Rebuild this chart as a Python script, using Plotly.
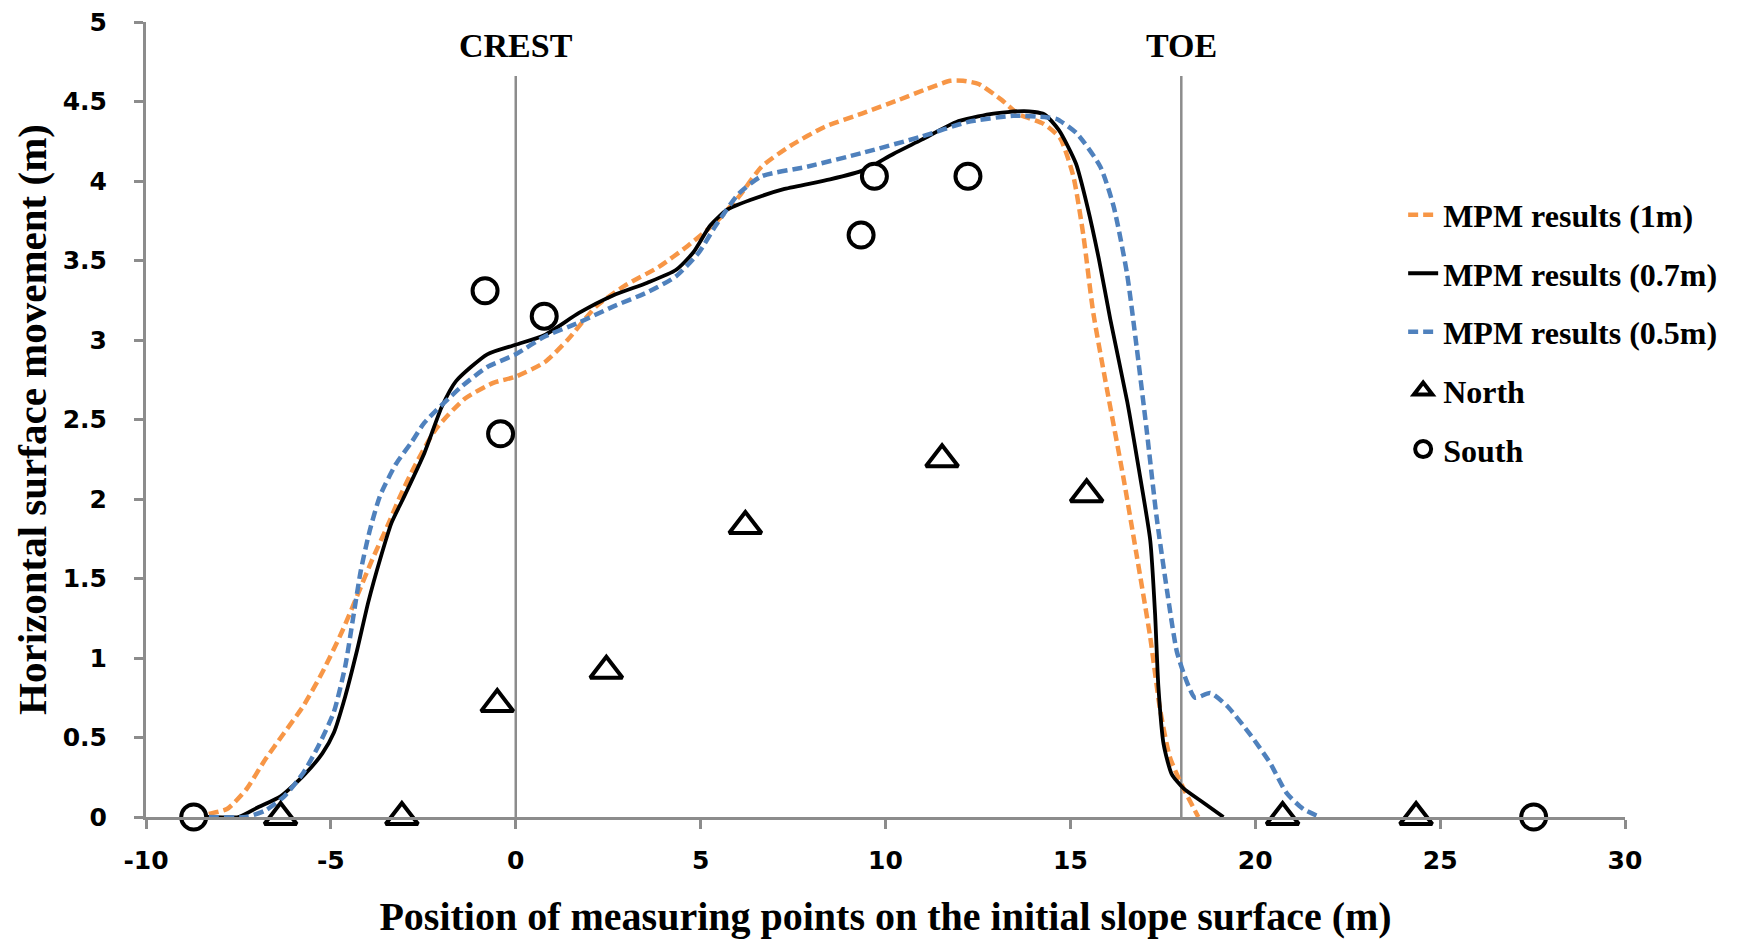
import plotly.graph_objects as go

# ---------------- data ----------------
mpm_1m_x = [-8.7, -8.3, -7.81, -7.3, -6.78, -6.26, -5.74, -5.23, -4.71, -4.29, -3.88, -3.47, -3.16,
            -2.77, -2.16, -1.38, -0.61, 0.0, 0.78, 1.40, 2.17, 2.94, 3.87, 4.64, 5.41, 6.03, 6.65,
            7.42, 8.35, 9.43, 10.36, 11.13, 11.75, 12.1, 12.52, 13.14, 13.6, 14.27, 14.72, 15.08,
            15.35, 15.62, 15.99, 16.43, 16.79, 17.16, 17.43, 17.70, 18.06, 18.46]
mpm_1m_y = [0.0, 0.02, 0.05, 0.17, 0.36, 0.53, 0.70, 0.91, 1.16, 1.39, 1.62, 1.83, 2.00,
            2.19, 2.44, 2.63, 2.73, 2.77, 2.86, 3.00, 3.21, 3.34, 3.46, 3.59, 3.74, 3.90, 4.09,
            4.22, 4.34, 4.43, 4.51, 4.58, 4.63, 4.63, 4.61, 4.51, 4.42, 4.36, 4.27, 4.03,
            3.66, 3.17, 2.69, 2.14, 1.65, 1.13, 0.67, 0.37, 0.18, 0.0]

mpm_07m_x = [-8.7, -8.33, -7.5, -6.98, -6.36, -5.74, -5.23, -4.92, -4.61, -4.29, -3.99, -3.67, -3.36,
             -3.05, -2.47, -2.0, -1.62, -0.77, 0.0, 0.77, 1.71, 2.63, 3.56, 4.33, 4.80, 5.26, 5.72,
             6.34, 7.27, 8.50, 9.43, 10.21, 10.98, 11.90, 12.83, 13.75, 14.29, 14.69, 15.15,
             15.46, 15.77, 16.08, 16.54, 16.85, 17.16, 17.29, 17.38, 17.52, 17.74, 18.06, 18.60, 19.14]
mpm_07m_y = [0.0, 0.0, 0.0, 0.06, 0.13, 0.26, 0.40, 0.53, 0.76, 1.05, 1.35, 1.62, 1.85,
             2.00, 2.29, 2.58, 2.74, 2.91, 2.97, 3.03, 3.17, 3.28, 3.36, 3.44, 3.55, 3.72, 3.82,
             3.88, 3.95, 4.01, 4.07, 4.17, 4.26, 4.37, 4.42, 4.44, 4.42, 4.32, 4.11,
             3.84, 3.51, 3.13, 2.61, 2.19, 1.74, 1.28, 0.82, 0.46, 0.27, 0.18, 0.09, 0.0]

mpm_05m_x = [-8.7, -8.33, -7.3, -6.78, -6.26, -5.74, -5.33, -4.92, -4.61, -4.40, -4.19, -3.95, -3.67,
             -3.24, -2.81, -2.47, -1.5, -0.77, 0.0, 0.77, 1.71, 2.63, 3.56, 4.33, 4.95, 5.41, 6.03,
             6.65, 7.88, 9.43, 10.98, 12.21, 13.45, 14.38, 14.63, 15.17, 15.81, 16.17, 16.53,
             16.79, 17.06, 17.33, 17.61, 17.88, 18.15, 18.37, 18.78, 19.23, 19.86, 20.40, 20.85,
             21.30, 21.75]
mpm_05m_y = [0.0, 0.0, 0.0, 0.04, 0.13, 0.28, 0.45, 0.66, 0.95, 1.25, 1.55, 1.80, 2.02,
             2.22, 2.36, 2.48, 2.70, 2.83, 2.91, 3.02, 3.11, 3.21, 3.30, 3.40, 3.55, 3.72, 3.92,
             4.03, 4.09, 4.18, 4.28, 4.37, 4.41, 4.40, 4.39, 4.30, 4.09, 3.84, 3.42,
             2.96, 2.44, 1.89, 1.43, 1.04, 0.85, 0.75, 0.78, 0.70, 0.52, 0.34, 0.15,
             0.05, 0.0]

north_x = [-6.36, -3.08, -0.50, 2.45, 6.21, 11.53, 15.44, 20.74, 24.35]
north_y = [0.0, 0.0, 0.71, 0.92, 1.83, 2.25, 2.03, 0.0, 0.0]

south_x = [-8.71, -0.83, -0.41, 0.77, 9.34, 9.70, 12.23, 27.53]
south_y = [0.0, 3.31, 2.41, 3.15, 3.66, 4.03, 4.03, 0.0]

crest_x = 0
toe_x = 18
marker_line_top = 4.66
label_y = 4.85

x_ticks = [-10, -5, 0, 5, 10, 15, 20, 25, 30]
y_ticks = [0, 0.5, 1, 1.5, 2, 2.5, 3, 3.5, 4, 4.5, 5]

ORANGE = "#F79646"
BLUE = "#4F81BD"
GRAY = "#8C8C8C"
SERIF = "Liberation Serif, Times New Roman, serif"
SANS = "DejaVu Sans, Verdana, sans-serif"

fig = go.Figure()

# reference lines (crest / toe)
for xv in (crest_x, toe_x):
    fig.add_trace(go.Scatter(x=[xv, xv], y=[0, marker_line_top], mode="lines",
                             line=dict(color=GRAY, width=2.5), showlegend=False, hoverinfo="skip"))

fig.add_trace(go.Scatter(x=mpm_1m_x, y=mpm_1m_y, mode="lines", name="MPM results (1m)",
                         line=dict(color=ORANGE, width=4.5, dash="10px,5px", shape="spline", smoothing=0.6),
                         legendgroup="a"))
fig.add_trace(go.Scatter(x=mpm_07m_x, y=mpm_07m_y, mode="lines", name="MPM results (0.7m)",
                         line=dict(color="black", width=3.8, shape="spline", smoothing=0.6),
                         legendgroup="b"))
fig.add_trace(go.Scatter(x=mpm_05m_x, y=mpm_05m_y, mode="lines", name="MPM results (0.5m)",
                         line=dict(color=BLUE, width=4.5, dash="10px,5px", shape="spline", smoothing=0.6),
                         legendgroup="c"))
fig.add_trace(go.Scatter(x=north_x, y=north_y, mode="markers", name="North",
                         marker=dict(symbol="triangle-up", size=28, color="white",
                                     line=dict(color="black", width=4)),
                         legendgroup="d", cliponaxis=False))
fig.add_trace(go.Scatter(x=south_x, y=south_y, mode="markers", name="South",
                         marker=dict(symbol="circle", size=25, color="white",
                                     line=dict(color="black", width=4)),
                         legendgroup="e", cliponaxis=False))

fig.add_annotation(x=crest_x, y=label_y, text="<b>CREST</b>", showarrow=False,
                   font=dict(family=SERIF, size=34, color="black"))
fig.add_annotation(x=toe_x, y=label_y, text="<b>TOE</b>", showarrow=False,
                   font=dict(family=SERIF, size=34, color="black"))

fig.update_layout(
    width=1744, height=941,
    margin=dict(l=146, r=119, t=22, b=124),
    paper_bgcolor="white", plot_bgcolor="white",
    legend=dict(x=0.85, y=0.792, xanchor="left", yanchor="top",
                font=dict(family=SERIF, size=32, color="black", weight="bold"),
                traceorder="grouped", tracegroupgap=14, bgcolor="rgba(0,0,0,0)"),
    showlegend=True,
)
fig.update_xaxes(range=[-10, 30], tickvals=x_ticks, ticktext=[f"<b>{v}</b>" for v in x_ticks],
                 showgrid=False, zeroline=False, showline=True, linecolor=GRAY, linewidth=3,
                 ticks="outside", ticklen=9, tickwidth=2.5, tickcolor=GRAY, ticklabelstandoff=10,
                 tickfont=dict(family=SANS, size=25, color="black"), automargin=False,
                 title=dict(text="<b>Position of measuring points on the initial slope surface (m)</b>",
                            font=dict(family=SERIF, size=40, color="black"), standoff=28))
fig.update_yaxes(range=[0, 5], tickvals=y_ticks, ticktext=[f"<b>{v:g}</b>" for v in y_ticks],
                 showgrid=False, zeroline=False, showline=True, linecolor=GRAY, linewidth=3,
                 ticks="outside", ticklen=9, tickwidth=2.5, tickcolor=GRAY, ticklabelstandoff=22,
                 tickfont=dict(family=SANS, size=25, color="black"), automargin=False,
                 title=dict(text="<b>Horizontal surface movement (m)</b>",
                            font=dict(family=SERIF, size=41, color="black"), standoff=4))

fig.write_html("out.html")
